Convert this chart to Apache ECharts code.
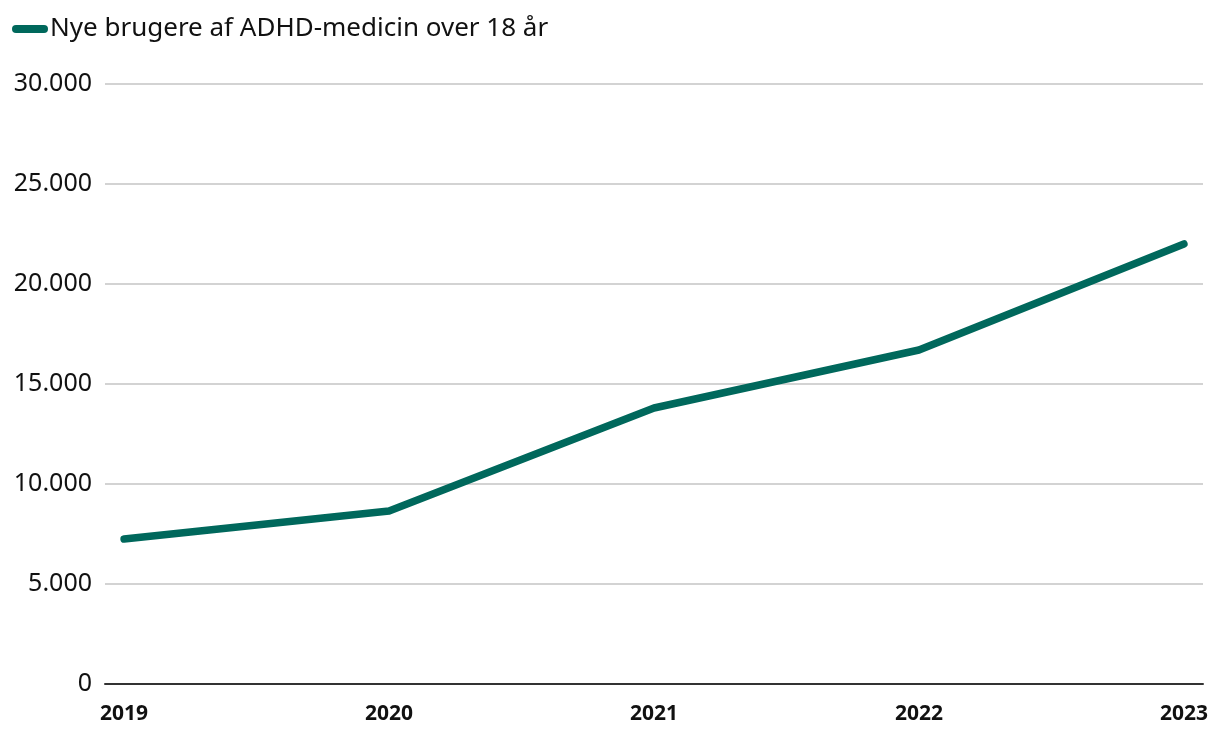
<!DOCTYPE html>
<html>
<head>
<meta charset="utf-8">
<script src="https://cdn.jsdelivr.net/npm/echarts@6/dist/echarts.min.js"></script>
<style>html,body{margin:0;padding:0;background:#fff}#c{width:1220px;height:734px}</style>
</head>
<body>
<div id="c"></div>
<script>
var years = [2019, 2020, 2021, 2022, 2023];
var values = [7250, 8650, 13800, 16700, 22000];
var seriesName = 'Nye brugere af ADHD-medicin over 18 år';

var chart = echarts.init(document.getElementById('c'));
chart.setOption({
  animation: false,
  legend: {
    left: 7, top: 11,
    itemWidth: 36, itemHeight: 8, itemGap: 4,
    textStyle: { fontFamily: 'Noto Sans', fontSize: 26, color: '#111', padding: [0,0,0,-3] },
    data: [{ name: seriesName, icon: 'path://M4,0 L32,0 A4,4 0 0 1 32,8 L4,8 A4,4 0 0 1 4,0 Z' }]
  },
  grid: { left: 105, right: 17, top: 84, bottom: 50, containLabel: false },
  xAxis: {
    type: 'value',
    min: 2018.928, max: 2023.072,
    axisLine: { show: true, onZero: false, lineStyle: { color: '#333', width: 2 } },
    axisTick: { show: false },
    splitLine: { show: false },
    axisLabel: {
      customValues: years,
      formatter: function (v) { return String(v); },
      fontFamily: 'Noto Sans', fontWeight: 'bold', fontSize: 21, color: '#111', margin: 20
    }
  },
  yAxis: {
    type: 'value', min: 0, max: 30000, interval: 5000,
    axisLine: { show: false }, axisTick: { show: false },
    splitLine: { lineStyle: { color: '#c4c4c4', width: 1.5 } },
    axisLabel: {
      fontFamily: 'Noto Sans', fontSize: 25, color: '#111', margin: 13,
      formatter: function (v) { return v === 0 ? '0' : v.toLocaleString('da-DK').replace(/,/g, '.'); }
    }
  },
  series: [{
    name: seriesName,
    type: 'line',
    data: years.map(function (y, i) { return [y, values[i]]; }),
    showSymbol: false, symbol: 'none',
    lineStyle: { color: '#00685c', width: 7.5, cap: 'round', join: 'round' },
    itemStyle: { color: '#00685c' }
  }]
});
</script>
</body>
</html>
